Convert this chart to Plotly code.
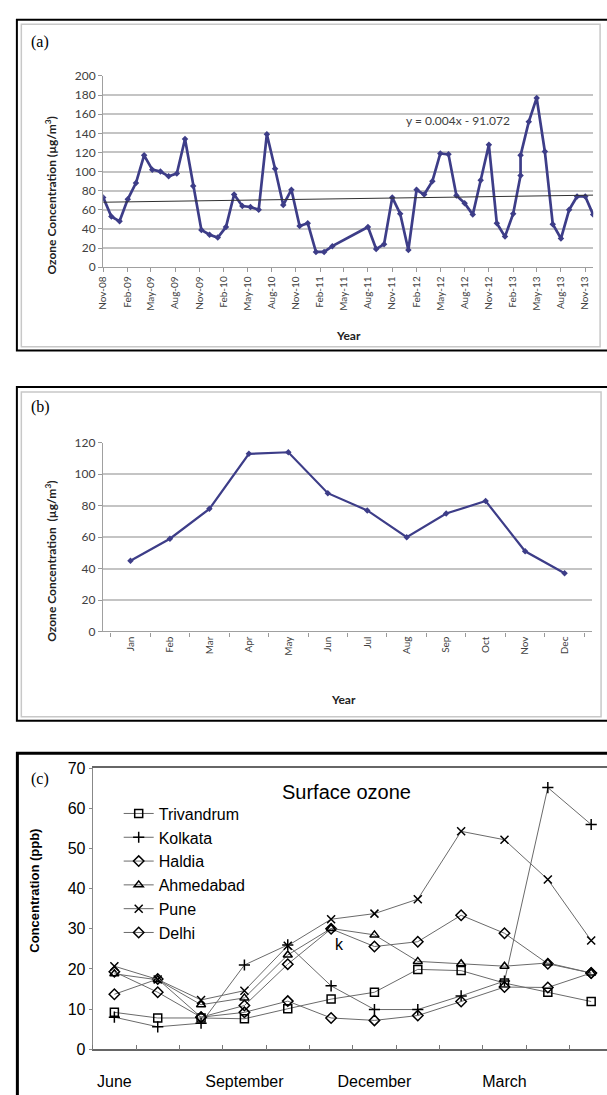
import datetime as dt
import plotly.graph_objects as go

# ---------------- Panel (a) data ----------------
a_dates = ["2008-11-01", "2008-12-02", "2009-01-02", "2009-02-02", "2009-03-05", "2009-04-05",
           "2009-05-06", "2009-06-06", "2009-07-07", "2009-08-07", "2009-09-07", "2009-10-08",
           "2009-11-08", "2009-12-09", "2010-01-09", "2010-02-09", "2010-03-12", "2010-04-12",
           "2010-05-13", "2010-06-13", "2010-07-14", "2010-08-14", "2010-09-14", "2010-10-15",
           "2010-11-15", "2010-12-16", "2011-01-16", "2011-02-16", "2011-03-19",
           "2011-08-01", "2011-09-01", "2011-10-01", "2011-11-01", "2011-12-01", "2012-01-01",
           "2012-02-01", "2012-03-01", "2012-04-01", "2012-05-01", "2012-06-01", "2012-07-01",
           "2012-08-01", "2012-09-01", "2012-10-01", "2012-11-01", "2012-12-01", "2013-01-01",
           "2013-02-01", "2013-03-01", "2013-03-01", "2013-04-01", "2013-05-01", "2013-06-01",
           "2013-07-01", "2013-08-01", "2013-09-01", "2013-10-01", "2013-11-01", "2013-12-01"]
a_values = [73, 53, 48, 71, 88, 117, 102, 100, 95, 98, 134, 85,
            39, 34, 31, 42, 76, 64, 63, 60, 139, 103, 65, 81,
            43, 46, 16, 16, 22,
            42, 19, 24, 73, 56, 18, 81, 76, 90, 119, 118, 75,
            67, 55, 91, 128, 46, 32, 56, 96, 117, 152, 177, 121,
            45, 30, 60, 74, 74, 55]
a_tick_dates = ["2008-11-01", "2009-02-01", "2009-05-01", "2009-08-01", "2009-11-01", "2010-02-01",
                "2010-05-01", "2010-08-01", "2010-11-01", "2011-02-01", "2011-05-01", "2011-08-01",
                "2011-11-01", "2012-02-01", "2012-05-01", "2012-08-01", "2012-11-01", "2013-02-01",
                "2013-05-01", "2013-08-01", "2013-11-01"]
a_tick_labels = ["Nov-08", "Feb-09", "May-09", "Aug-09", "Nov-09", "Feb-10", "May-10", "Aug-10",
                 "Nov-10", "Feb-11", "May-11", "Aug-11", "Nov-11", "Feb-12", "May-12", "Aug-12",
                 "Nov-12", "Feb-13", "May-13", "Aug-13", "Nov-13"]
a_trend_slope = 0.004
a_trend_intercept = -91.072
a_trend_label = "y = 0.004x - 91.072"

# ---------------- Panel (b) data ----------------
b_months = ["Jan", "Feb", "Mar", "Apr", "May", "Jun", "Jul", "Aug", "Sep", "Oct", "Nov", "Dec"]
b_values = [45, 59, 78, 113, 114, 88, 77, 60, 75, 83, 51, 37]

# ---------------- Panel (c) data ----------------
c_months = ["June", "July", "August", "September", "October", "November", "December",
            "January", "February", "March", "April", "May"]
c_tick_labels = ["June", "September", "December", "March"]
c_trivandrum = [9.2, 7.8, 7.8, 7.6, 10.1, 12.5, 14.2, 19.9, 19.6, 16.5, 14.2, 11.9]
c_kolkata = [8.0, 5.6, 6.5, 21.0, 26.0, 15.8, 9.9, 9.9, 13.3, 17.0, 65.2, 56.0]
c_haldia = [13.7, 17.5, 8.0, 10.9, 21.2, 30.0, 25.6, 26.8, 33.4, 28.9, 21.3, 19.0]
c_ahmedabad = [18.8, 17.3, 11.1, 12.8, 23.5, 30.1, 28.5, 21.9, 21.3, 20.7, 21.5, 19.0]
c_pune = [20.7, 17.4, 12.3, 14.6, 25.8, 32.4, 33.8, 37.4, 54.3, 52.2, 42.3, 27.1]
c_delhi = [19.3, 14.2, 8.0, 9.2, 12.0, 7.8, 7.2, 8.4, 11.9, 15.5, 15.4, 19.0]
c_series = [("Trivandrum", c_trivandrum, "square-open"),
            ("Kolkata", c_kolkata, "cross-thin-open"),
            ("Haldia", c_haldia, "diamond-open"),
            ("Ahmedabad", c_ahmedabad, "triangle-up-open"),
            ("Pune", c_pune, "x-thin-open"),
            ("Delhi", c_delhi, "diamond-open")]

# ---------------- layout helpers ----------------
W, H = 607, 1095


def px(x):
    return x / W


def py(y):
    return 1 - y / H


NAVY = "#3d3d88"
GRID = "#c4c4c4"
TICKFONT = dict(family="Lato", size=12, color="#404040")

fig = go.Figure()

# Panel (a)
fig.add_trace(go.Scatter(x=a_dates, y=a_values, mode="lines+markers",
                         line=dict(color=NAVY, width=2.7),
                         marker=dict(symbol="diamond", size=5, color=NAVY),
                         xaxis="x", yaxis="y", showlegend=False))
excel_epoch = dt.date(1899, 12, 30)
trend_x = [a_dates[0], a_dates[-1]]
trend_y = [a_trend_slope * (dt.date.fromisoformat(d) - excel_epoch).days + a_trend_intercept
           for d in trend_x]
fig.add_trace(go.Scatter(x=trend_x, y=trend_y, mode="lines",
                         line=dict(color="#303030", width=1),
                         xaxis="x", yaxis="y", showlegend=False))

# Panel (b)
fig.add_trace(go.Scatter(x=b_months, y=b_values, mode="lines+markers",
                         line=dict(color=NAVY, width=2.2),
                         marker=dict(symbol="diamond", size=5, color=NAVY),
                         xaxis="x2", yaxis="y2", showlegend=False))

# Panel (c)
c_x = list(range(len(c_months)))
for name, vals, sym in c_series:
    fig.add_trace(go.Scatter(x=c_x, y=vals, mode="lines+markers", name=name,
                             line=dict(color="#6a6a6a", width=1),
                             marker=dict(symbol=sym, size=8, color="black",
                                         line=dict(color="black", width=1.5)),
                             xaxis="x3", yaxis="y3"))

fig.update_layout(
    width=W, height=H,
    margin=dict(l=0, r=0, t=0, b=0),
    paper_bgcolor="white", plot_bgcolor="white",
    font=dict(family="Lato", color="#333"),
    xaxis=dict(domain=[px(97.3), px(593)], anchor="y", type="date",
               range=["2008-11-01", "2013-12-01"],
               tickmode="array", tickvals=a_tick_dates, ticktext=a_tick_labels,
               tickangle=-90, tickfont=dict(family="Lato", size=10, color="#404040"),
               ticks="outside", ticklen=4, tickcolor="#999",
               showline=True, linecolor="#a0a0a0", linewidth=1.2,
               showgrid=False, zeroline=False),
    yaxis=dict(domain=[py(263.3), py(69)], anchor="x", range=[0, 200], dtick=20,
               tickfont=TICKFONT, ticks="outside", ticklen=4, tickcolor="#999",
               showline=True, linecolor="#a0a0a0", linewidth=1.2,
               showgrid=True, gridcolor=GRID, gridwidth=1.5, zeroline=False),
    xaxis2=dict(domain=[px(97), px(592)], anchor="y2", type="category",
                tickson="boundaries", tickangle=-90,
                tickfont=dict(family="Lato", size=10, color="#404040"),
                ticks="outside", ticklen=4, tickcolor="#999",
                showline=True, linecolor="#a0a0a0", linewidth=1.2,
                showgrid=False, zeroline=False),
    yaxis2=dict(domain=[py(633.3), py(441.7)], anchor="x2", range=[0, 120], dtick=20,
                tickfont=TICKFONT, ticks="outside", ticklen=4, tickcolor="#999",
                showline=True, linecolor="#a0a0a0", linewidth=1.2,
                showgrid=True, gridcolor=GRID, gridwidth=1.5, zeroline=False),
    xaxis3=dict(domain=[px(86.7), 1.0], anchor="y3", range=[-0.5, 11.365],
                tickmode="array", tickvals=[c_months.index(m) for m in c_tick_labels],
                ticktext=c_tick_labels, ticks="", ticklabelstandoff=17,
                tickfont=dict(family="Liberation Sans", size=16, color="black"),
                minor=dict(tick0=0.5, dtick=1, ticks="inside", ticklen=5, tickcolor="#777"),
                showline=True, mirror=True, linecolor="#666", linewidth=1.5,
                showgrid=False, zeroline=False),
    yaxis3=dict(domain=[py(1057.7), py(772.3)], anchor="x3", range=[0, 70], dtick=10,
                tickfont=dict(family="Liberation Sans", size=16, color="black"),
                ticks="outside", ticklen=3, tickcolor="#888",
                showline=True, linecolor="#888", linewidth=1,
                showgrid=False, zeroline=False),
    legend=dict(x=px(113), y=py(801), xanchor="left", yanchor="top",
                font=dict(family="Liberation Sans", size=16, color="black"),
                bgcolor="rgba(0,0,0,0)", borderwidth=0, tracegroupgap=0,
                itemwidth=30),
)

# Frames around panels
shapes = [
    dict(x0=px(10), x1=px(608), y0=py(12), y1=py(348), line=dict(color="black", width=2)),
    dict(x0=px(14.5), x1=px(600), y0=py(16.5), y1=py(344), line=dict(color="#c8c8c8", width=1.5)),
    dict(x0=px(10), x1=px(608), y0=py(385), y1=py(724), line=dict(color="black", width=2)),
    dict(x0=px(14.5), x1=px(601), y0=py(390), y1=py(720), line=dict(color="#c8c8c8", width=1.5)),
    dict(x0=px(10.5), x1=px(609), y0=py(757), y1=py(1112), line=dict(color="black", width=3)),
]
for s in shapes:
    fig.add_shape(type="rect", xref="paper", yref="paper", fillcolor="rgba(0,0,0,0)",
                  layer="below", **s)

ann = [
    dict(x=px(22), y=py(35), text="(a)", xanchor="left",
         font=dict(family="Liberation Serif", size=16, color="black")),
    dict(x=px(22), y=py(405), text="(b)", xanchor="left",
         font=dict(family="Liberation Serif", size=16, color="black")),
    dict(x=px(22), y=py(783), text="(c)", xanchor="left",
         font=dict(family="Liberation Serif", size=16, color="black")),
    dict(x=px(45), y=py(190), text="<b>Ozone Concentration (µg/m<sup>3</sup>)</b>",
         textangle=-90, font=dict(family="Lato", size=12, color="#222")),
    dict(x=px(345), y=py(333), text="<b>Year</b>", font=dict(family="Lato", size=12, color="#222")),
    dict(x=px(45), y=py(562), text="<b>Ozone Concentration  (µg/m<sup>3</sup>)</b>",
         textangle=-90, font=dict(family="Lato", size=12, color="#222")),
    dict(x=px(340), y=py(702), text="<b>Year</b>", font=dict(family="Lato", size=12, color="#222")),
    dict(x=px(27), y=py(897), text="<b>Concentration (ppb)</b>", textangle=-90,
         font=dict(family="Liberation Sans", size=13, color="black")),
    dict(x=px(343), y=py(796), text="Surface ozone",
         font=dict(family="Liberation Sans", size=20, color="black")),
]
for a in ann:
    a.setdefault("xanchor", "center")
    fig.add_annotation(xref="paper", yref="paper", showarrow=False, yanchor="middle", **a)

fig.add_annotation(xref="x", yref="y", x="2012-07-06", y=153, text=a_trend_label,
                   showarrow=False, font=dict(family="Lato", size=12, color="#404040"))
fig.add_annotation(xref="x3", yref="y3", x=c_months.index("November") + 0.2, y=26, text="k",
                   showarrow=False, font=dict(family="Liberation Sans", size=16, color="black"))

fig.write_html("out.html", config={"displayModeBar": False},
               post_script="document.body.style.margin='0';document.body.style.overflow='hidden';")
